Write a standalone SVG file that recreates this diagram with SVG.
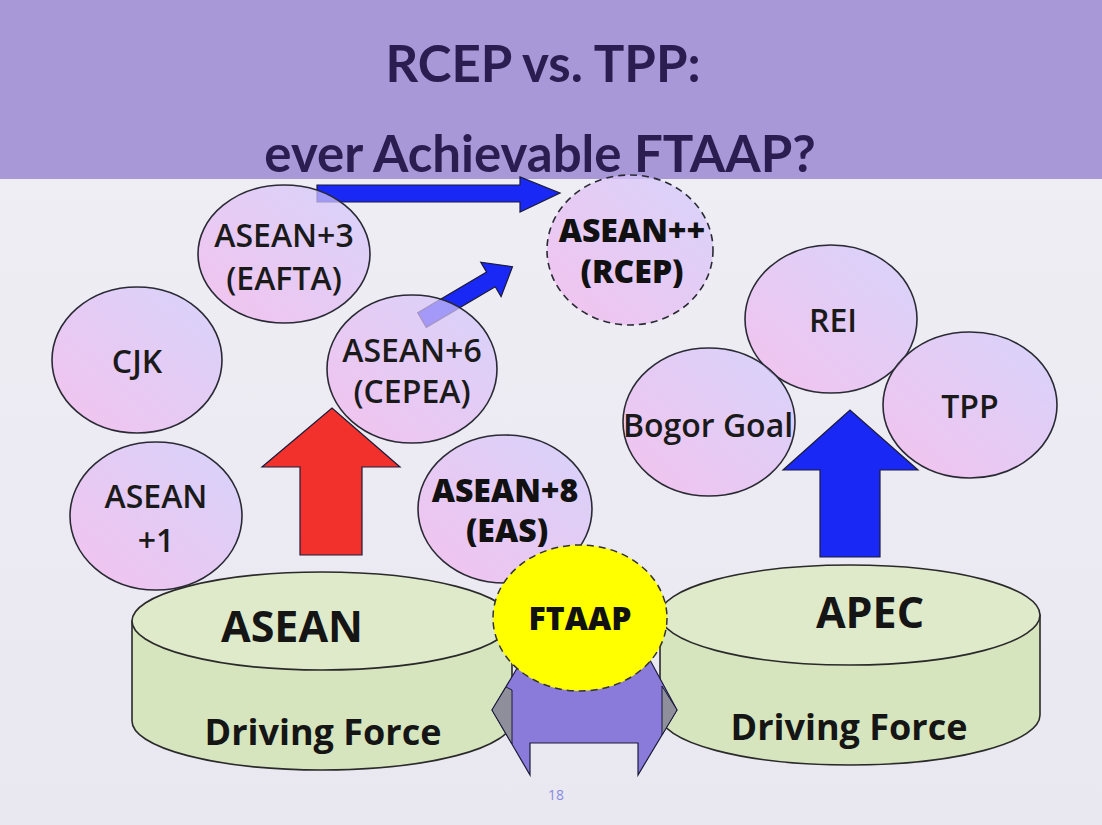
<svg xmlns="http://www.w3.org/2000/svg" width="1102" height="825" viewBox="0 0 1102 825">
<defs>
<linearGradient id="eg" x1="0" y1="1" x2="1" y2="0">
<stop offset="0" stop-color="#f5b3ec"/>
<stop offset="1" stop-color="#cfcafd"/>
</linearGradient>
<linearGradient id="bg" x1="0" y1="0" x2="0" y2="1">
<stop offset="0" stop-color="#f0eff5"/>
<stop offset="1" stop-color="#e9e8f1"/>
</linearGradient>
<style>
.el{fill:url(#eg);fill-opacity:0.72;stroke:#2a2a35;stroke-width:1.6}
.dash{stroke-dasharray:7 5}
.lb{font-family:"Open Sans","DejaVu Sans",sans-serif;font-weight:600;font-size:32px;fill:#1a1a1a;text-anchor:middle}
.lbb{font-family:"Open Sans","DejaVu Sans",sans-serif;font-weight:800;font-size:32px;fill:#111;text-anchor:middle}
.ttl{font-family:Lato,"Open Sans",sans-serif;font-weight:700;font-size:51px;fill:#2b1d4f;text-anchor:middle}
.cyl{stroke:#2a2a2a;stroke-width:1.6}
.big{font-family:"Open Sans","DejaVu Sans",sans-serif;font-weight:700;fill:#151515;text-anchor:middle}
.arr{stroke:#1b1b3a;stroke-width:1.2}
</style>
</defs>
<rect x="0" y="0" width="1102" height="825" fill="url(#bg)"/>
<rect x="0" y="0" width="1102" height="179" fill="#a898d8"/>
<text class="ttl" x="543" y="82">RCEP vs. TPP:</text>
<text class="ttl" x="540" y="172">ever Achievable FTAAP?</text>

<g id="connectors">
<polygon class="arr" fill="#1a28f5" points="317,185 520,185 520,177 560,193 520,212 520,202 317,202"/>
<polygon class="arr" fill="#1a28f5" transform="translate(422,320) rotate(-30.5)" points="0,-8.5 80,-8.5 80,-20 105,0 80,20 80,8.5 0,8.5"/>
<polygon class="arr" fill="#f2302c" points="300,555 300,467 262,467 332,408 400,467 362,467 362,555"/>
<polygon class="arr" fill="#1a28f5" points="820,557 820,470 783,470 850,410 918,470 880,470 880,557"/>
</g>

<g id="asean3"><ellipse class="el" cx="284" cy="254" rx="86" ry="69"/><text class="lb" x="284" y="247">ASEAN+3</text><text class="lb" x="284" y="290">(EAFTA)</text></g>
<g id="cjk"><ellipse class="el" cx="137" cy="360" rx="85" ry="73"/><text class="lb" x="137" y="373">CJK</text></g>
<g id="asean1"><ellipse class="el" cx="156" cy="516" rx="86" ry="74"/><text class="lb" x="156" y="508">ASEAN</text><text class="lb" x="156" y="552">+1</text></g>
<g id="asean6"><ellipse class="el" cx="412" cy="369" rx="85" ry="74"/><text class="lb" x="412" y="362">ASEAN+6</text><text class="lb" x="412" y="403">(CEPEA)</text></g>
<g id="asean8"><ellipse class="el" cx="505" cy="509" rx="87" ry="74"/><text class="lbb" x="505" y="502">ASEAN+8</text><text class="lbb" x="507" y="542">(EAS)</text></g>
<g id="rcep"><ellipse class="el dash" cx="630" cy="250" rx="83" ry="75"/><text class="lbb" x="632" y="242">ASEAN++</text><text class="lbb" x="632" y="283">(RCEP)</text></g>
<g id="rei"><ellipse class="el" cx="831" cy="319" rx="86" ry="74"/><text class="lb" x="833" y="332">REI</text></g>
<g id="bogor"><ellipse class="el" cx="709" cy="422" rx="86" ry="74"/><text class="lb" x="708" y="437">Bogor Goal</text></g>
<g id="tpp"><ellipse class="el" cx="970" cy="405" rx="87" ry="73"/><text class="lb" x="970" y="418">TPP</text></g>

<g id="asean-cyl">
<path class="cyl" fill="#d6e5be" d="M132,621 L132,721 A190,49 0 0 0 512,721 L512,621 Z"/>
<ellipse class="cyl" fill="#dfeacb" cx="322" cy="621" rx="190" ry="49"/>
<text class="big" x="292" y="642" font-size="43">ASEAN</text>
<text class="big" x="323" y="745" font-size="36" font-weight="600">Driving Force</text>
</g>
<g id="apec-cyl">
<path class="cyl" fill="#d6e5be" d="M660,615 L660,715 A190,50 0 0 0 1040,715 L1040,615 Z"/>
<ellipse class="cyl" fill="#dfeacb" cx="850" cy="615" rx="190" ry="50"/>
<text class="big" x="870" y="628" font-size="43">APEC</text>
<text class="big" x="849" y="740" font-size="36" font-weight="600">Driving Force</text>
</g>

<g id="link-arrow">
<polygon fill="#8a7ad9" stroke="#1b1b3a" stroke-width="1.2" points="522,660 492,710 530,775 530,743 638,743 638,775 677,710 650,660"/>
<polygon fill="#8f8f9c" stroke="#1b1b3a" stroke-width="1" points="506,687 492,710 512,744 512,690"/>
<polygon fill="#8f8f9c" stroke="#1b1b3a" stroke-width="1" points="662,686 677,710 662,735"/>
</g>

<g id="ftaap"><ellipse fill="#ffff00" stroke="#333" stroke-width="1.5" class="dash" cx="580" cy="618" rx="87" ry="73"/><text class="lbb" x="580" y="630" font-size="30">FTAAP</text></g>

<text x="556" y="800" font-family="Open Sans, sans-serif" font-size="14" fill="#8a8ae0" text-anchor="middle">18</text>
</svg>
